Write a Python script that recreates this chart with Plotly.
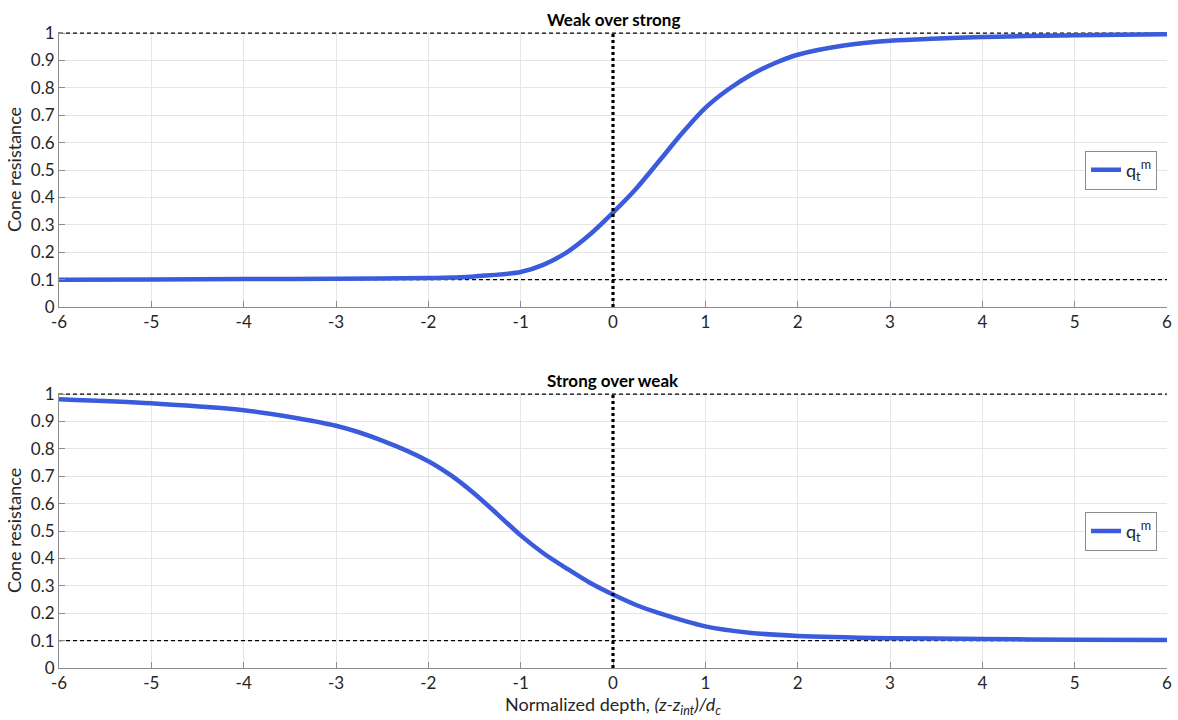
import plotly.graph_objects as go
from plotly.subplots import make_subplots

# Weak over strong
x_top = [-6, -5, -4, -3, -2, -1.5, -1, -0.75, -0.5, -0.25, 0, 0.25, 0.5, 0.75, 1, 1.25, 1.5, 1.75, 2, 2.5, 3, 4, 5, 6]
q_top = [0.100, 0.101, 0.102, 0.103, 0.106, 0.112, 0.128, 0.155, 0.2, 0.265, 0.345, 0.432, 0.533, 0.635, 0.727, 0.795, 0.849, 0.89, 0.921, 0.955, 0.972, 0.986, 0.992, 0.996]

# Strong over weak
x_bot = [-6, -5, -4, -3, -2.5, -2, -1.75, -1.5, -1.25, -1, -0.75, -0.5, -0.25, 0, 0.25, 0.5, 1, 1.5, 2, 3, 4, 5, 6]
q_bot = [0.981, 0.966, 0.941, 0.884, 0.83, 0.755, 0.702, 0.636, 0.561, 0.484, 0.418, 0.363, 0.311, 0.268, 0.23, 0.2, 0.152, 0.128, 0.117, 0.109, 0.106, 0.103, 0.102]

titles = ["Weak over strong", "Strong over weak"]
x_ticks = list(range(-6, 7))
y_ticks = [0, 0.1, 0.2, 0.3, 0.4, 0.5, 0.6, 0.7, 0.8, 0.9, 1]
y_tick_text = ["0", "0.1", "0.2", "0.3", "0.4", "0.5", "0.6", "0.7", "0.8", "0.9", "1"]
upper_level = 1.0
lower_level = 0.1

FONT = "Lato, 'Open Sans', sans-serif"
BLUE = "#3a5bdc"
TXT = "#262626"

fig = make_subplots(rows=2, cols=1, vertical_spacing=0.135)

for r, (xs, ys, lg) in enumerate([(x_top, q_top, "legend"), (x_bot, q_bot, "legend2")], start=1):
    for lvl in (upper_level, lower_level):
        fig.add_trace(go.Scatter(x=[x_ticks[0], x_ticks[-1]], y=[lvl, lvl], mode="lines", showlegend=False,
                                 hoverinfo="skip", line=dict(color="black", width=1.3, dash="4px,3px")),
                      row=r, col=1)
    fig.add_trace(go.Scatter(x=xs, y=ys, mode="lines", line=dict(color=BLUE, width=4.5, shape="spline", smoothing=0.8),
                             name="q<sub>t</sub><sup>m</sup>", legend=lg), row=r, col=1)

for xr, yr in [("x", "y"), ("x2", "y2")]:
    fig.add_shape(type="line", xref=xr, yref=yr, x0=0, x1=0, y0=0, y1=1,
                  line=dict(color="black", width=3.2, dash="3px,3px"), layer="above")

axis_common = dict(showline=True, linecolor="#8c8c8c", linewidth=1, ticks="inside", ticklen=6,
                   tickcolor="#8c8c8c", showgrid=True, gridcolor="#e6e6e6", gridwidth=1,
                   zeroline=False, tickfont=dict(family=FONT, size=17, color=TXT), mirror=False,
                   automargin=False, ticklabeloverflow="allow")

for r in (1, 2):
    fig.update_xaxes(range=[-6, 6], tickvals=x_ticks, ticktext=[str(t) for t in x_ticks], row=r, col=1, **axis_common)
    fig.update_yaxes(range=[0, 1.004], tickvals=y_ticks, ticktext=y_tick_text, row=r, col=1,
                     title=dict(text="Cone resistance", font=dict(family=FONT, size=18, color=TXT), standoff=4),
                     **axis_common)

fig.update_xaxes(title=dict(text="Normalized depth, <i>(z-z<sub>int</sub>)/d<sub>c</sub></i>",
                            font=dict(family=FONT, size=18, color=TXT), standoff=2), row=2, col=1)

leg_common = dict(x=0.991, xanchor="right", yanchor="middle", bordercolor="#8c8c8c", borderwidth=1,
                  bgcolor="white", font=dict(family=FONT, size=18, color=TXT), itemwidth=30, tracegroupgap=0)
fig.update_layout(
    width=1178, height=720,
    margin=dict(l=59, r=11, t=32, b=52),
    paper_bgcolor="white", plot_bgcolor="white",
    showlegend=True,
    legend=dict(y=0.783, **leg_common),
    legend2=dict(y=0.215, **leg_common),
)

ydom_top = fig.layout.yaxis.domain
ydom_bot = fig.layout.yaxis2.domain
for t, dom in zip(titles, [ydom_top, ydom_bot]):
    fig.add_annotation(text=t, xref="paper", yref="paper", x=0.5, y=dom[1], yanchor="bottom", yshift=0,
                       showarrow=False, font=dict(family=FONT, size=17, color="black", weight="bold"))

fig.write_html("out.html", config={"displayModeBar": False},
               post_script="document.body.style.margin='0';document.body.style.overflow='hidden';")
